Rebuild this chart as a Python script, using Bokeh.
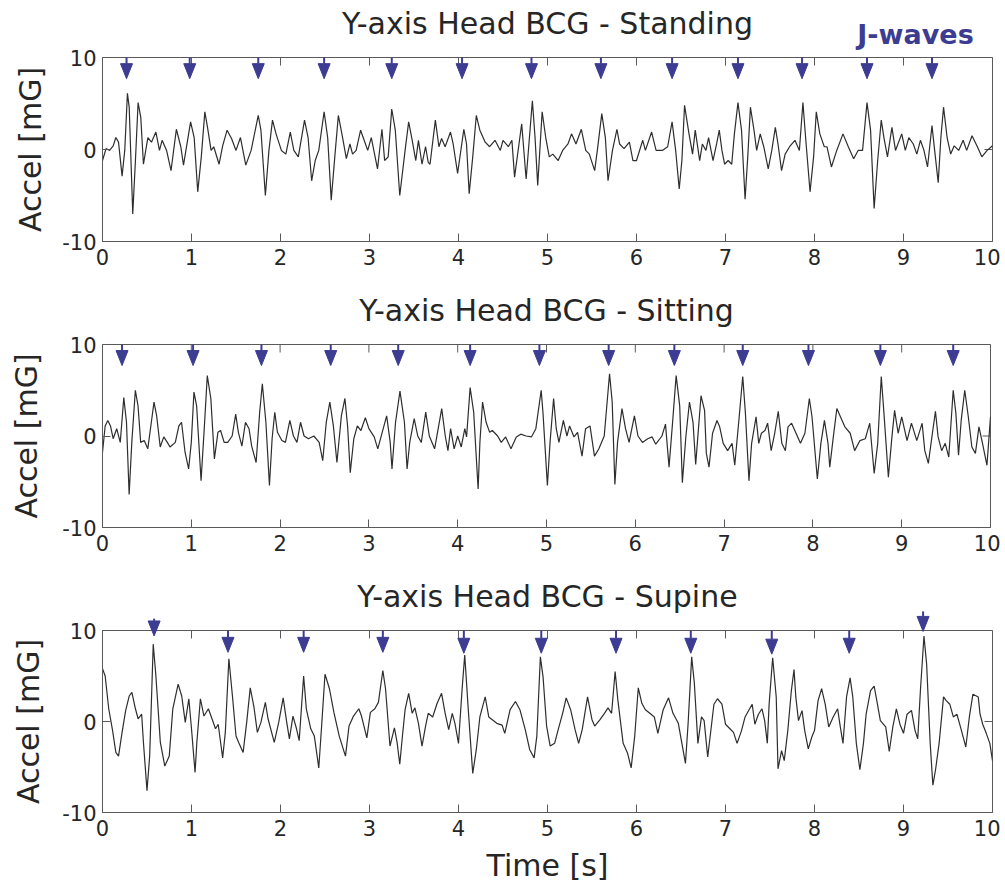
from math import pi
from bokeh.plotting import figure
from bokeh.models import FixedTicker, Range1d
from bokeh.core.properties import value
from bokeh.layouts import column
from bokeh.embed import file_html
from bokeh.resources import INLINE

# ---------------- data ----------------
x_ticks = [0, 1, 2, 3, 4, 5, 6, 7, 8, 9, 10]
y_ticks = [-10, 0, 10]
titles = ["Y-axis Head BCG - Standing", "Y-axis Head BCG - Sitting", "Y-axis Head BCG - Supine"]

standing = [
    (0.00, -1.2), (0.04, 0.1), (0.08, -0.1), (0.12, 0.4), (0.15, 1.3), (0.18, 0.8), (0.22, -2.9), (0.25, -0.1),
    (0.28, 6.1), (0.30, 4.6), (0.34, -7.0), (0.37, -1.2), (0.40, 5.1), (0.43, 3.5), (0.46, -1.6), (0.51, 1.3),
    (0.55, 0.8), (0.60, 1.9), (0.64, -0.1), (0.67, 1.0), (0.72, -0.1), (0.77, -2.3), (0.83, 2.2), (0.88, 0.3),
    (0.91, -1.7), (0.99, 3.0), (1.03, 1.3), (1.07, -4.6), (1.11, -0.8), (1.15, 4.1), (1.18, 2.4), (1.22, -0.1),
    (1.25, 0.3), (1.31, -1.6), (1.35, 0.4), (1.40, 2.1), (1.45, 1.2), (1.50, -0.1), (1.55, 1.3), (1.61, -1.7),
    (1.67, -0.1), (1.75, 3.7), (1.78, 2.1), (1.83, -5.0), (1.87, -0.1), (1.91, 3.2), (1.95, 1.7), (2.01, -0.1),
    (2.06, -0.5), (2.11, 1.9), (2.15, -0.1), (2.20, -0.8), (2.27, 3.2), (2.31, 1.3), (2.35, -3.4), (2.39, -1.2),
    (2.43, -0.1), (2.49, 4.1), (2.53, 1.3), (2.57, -5.5), (2.61, -0.8), (2.65, 3.7), (2.69, 1.7), (2.74, -1.0),
    (2.78, 0.6), (2.81, -0.5), (2.85, -0.1), (2.90, 2.1), (2.94, 1.0), (2.98, -0.1), (3.02, 1.3), (3.09, -2.1),
    (3.14, 2.2), (3.17, -1.2), (3.21, -0.8), (3.25, 4.4), (3.29, 2.1), (3.34, -5.0), (3.40, -0.1), (3.44, 3.0),
    (3.48, 1.0), (3.52, -1.2), (3.55, 1.0), (3.59, -1.6), (3.63, 0.3), (3.66, -1.4), (3.68, -1.6), (3.74, 3.2),
    (3.78, 0.3), (3.81, 1.2), (3.85, 0.3), (3.91, 1.9), (3.94, 0.6), (3.99, -2.6), (4.06, 2.2), (4.09, 0.6),
    (4.12, -4.8), (4.16, -0.8), (4.20, 3.7), (4.24, 2.1), (4.30, 0.8), (4.35, 0.3), (4.41, 1.0), (4.47, -0.1),
    (4.50, 1.0), (4.56, 0.3), (4.60, 1.0), (4.63, -3.0), (4.71, 2.8), (4.76, -3.2), (4.83, 5.3), (4.86, 1.3),
    (4.89, -3.9), (4.94, 4.1), (4.98, 1.3), (5.02, -0.8), (5.06, -0.5), (5.12, -1.2), (5.17, -0.1), (5.23, 0.6),
    (5.27, 1.7), (5.32, 0.6), (5.38, 2.2), (5.43, -0.1), (5.47, -0.5), (5.53, -2.3), (5.56, -0.1), (5.61, 3.9),
    (5.65, 1.3), (5.68, -3.4), (5.73, -0.1), (5.78, 2.2), (5.81, 0.6), (5.86, 0.1), (5.92, 0.8), (5.96, -1.2),
    (6.00, -1.2), (6.07, 1.0), (6.10, -0.1), (6.17, 1.9), (6.22, -0.1), (6.29, -0.1), (6.35, 0.3), (6.40, 3.0),
    (6.44, -0.1), (6.48, -4.3), (6.51, -1.2), (6.54, 4.8), (6.59, 1.7), (6.63, -0.5), (6.66, 2.1), (6.71, -1.2),
    (6.74, 0.6), (6.78, -0.1), (6.81, 1.3), (6.86, -1.2), (6.90, 0.6), (6.93, 2.1), (6.96, -0.1), (6.99, -1.6),
    (7.03, -1.2), (7.07, -1.6), (7.10, 1.7), (7.14, 5.1), (7.18, 2.1), (7.22, -5.4), (7.25, -0.8), (7.28, 4.6),
    (7.32, 2.1), (7.35, -0.1), (7.39, 1.7), (7.43, 0.3), (7.48, -2.1), (7.52, -0.1), (7.56, 2.4), (7.59, 0.6),
    (7.63, -2.3), (7.67, -0.5), (7.72, 0.3), (7.78, 1.0), (7.83, -0.1), (7.87, 5.1), (7.90, 1.3), (7.95, -4.6),
    (7.99, -0.8), (8.02, 4.1), (8.06, 1.7), (8.11, 0.3), (8.14, 0.3), (8.19, -1.9), (8.25, -0.1), (8.32, 1.7),
    (8.38, 0.3), (8.44, -1.0), (8.49, -0.1), (8.54, -0.1), (8.59, 5.1), (8.63, 2.1), (8.67, -6.4), (8.71, -1.2),
    (8.75, 3.2), (8.78, 1.3), (8.82, -0.8), (8.87, 2.4), (8.91, -0.1), (8.98, 1.7), (9.02, -0.1), (9.06, 1.3),
    (9.11, 0.6), (9.15, -0.5), (9.19, 1.0), (9.23, -0.1), (9.27, -1.9), (9.32, 2.6), (9.35, -0.1), (9.39, -3.6),
    (9.42, 1.3), (9.45, 4.6), (9.49, 1.3), (9.53, -0.5), (9.57, 0.4), (9.62, -0.1), (9.67, 1.0), (9.71, -0.1),
    (9.77, 1.5), (9.83, 0.3), (9.88, -0.8), (9.94, -0.1), (10.00, 0.4),
]

sitting = [
    (0.00, -1.8), (0.03, 1.1), (0.06, 1.7), (0.09, 1.1), (0.12, -0.3), (0.16, 0.8), (0.20, -0.7), (0.24, 4.2),
    (0.27, 1.5), (0.30, -6.4), (0.33, -0.7), (0.37, 5.0), (0.40, 3.3), (0.43, -0.7), (0.47, -0.5), (0.51, -1.4),
    (0.55, 1.5), (0.58, 3.7), (0.61, 2.2), (0.65, -1.2), (0.69, -0.1), (0.73, -0.7), (0.76, -1.2), (0.82, -0.7),
    (0.86, 1.1), (0.89, 1.5), (0.93, -1.8), (0.97, -3.6), (1.00, -0.7), (1.03, 4.8), (1.06, 3.3), (1.11, -4.9),
    (1.15, 1.5), (1.18, 6.6), (1.22, 4.1), (1.26, -2.5), (1.30, 0.4), (1.33, 0.6), (1.37, -0.7), (1.41, -0.7),
    (1.46, 0.0), (1.50, 2.4), (1.53, 0.4), (1.57, -1.1), (1.61, 1.5), (1.65, 0.8), (1.68, -1.1), (1.73, -2.9),
    (1.77, 2.6), (1.80, 5.7), (1.84, 1.5), (1.88, -5.4), (1.91, -0.3), (1.94, 2.6), (1.97, 0.4), (2.02, -0.5),
    (2.06, -0.7), (2.11, 1.7), (2.15, 0.0), (2.19, -0.7), (2.23, 1.5), (2.27, 0.0), (2.32, -0.3), (2.38, 0.0),
    (2.44, -0.7), (2.48, -2.7), (2.52, 1.5), (2.56, 3.7), (2.60, 1.1), (2.64, -2.9), (2.69, 2.2), (2.73, 4.1),
    (2.76, 1.1), (2.79, -4.0), (2.83, -0.3), (2.87, 1.1), (2.91, 0.6), (2.96, 2.0), (3.00, 0.8), (3.06, -0.1),
    (3.10, -1.4), (3.15, 0.4), (3.20, 2.2), (3.24, -0.7), (3.26, -3.6), (3.30, 1.5), (3.35, 4.9), (3.40, 1.5),
    (3.43, -3.6), (3.46, -0.7), (3.51, 1.9), (3.55, 0.0), (3.59, -0.7), (3.64, 2.6), (3.68, 0.0), (3.74, -1.4),
    (3.82, 3.0), (3.86, 0.0), (3.89, -1.6), (3.92, 0.8), (3.96, -1.4), (4.00, 0.0), (4.04, -1.2), (4.08, 0.8),
    (4.10, -0.1), (4.14, 5.3), (4.18, 2.6), (4.23, -5.8), (4.25, -0.7), (4.28, 3.7), (4.32, 1.5), (4.36, 0.4),
    (4.39, 0.6), (4.45, 0.0), (4.49, -0.7), (4.54, -0.1), (4.60, -1.4), (4.66, -0.1), (4.71, 0.2), (4.77, 0.0),
    (4.83, -0.1), (4.88, 0.8), (4.94, 5.0), (4.96, 2.6), (5.01, -5.4), (5.04, -0.7), (5.08, 4.1), (5.11, 0.8),
    (5.14, -0.7), (5.19, 1.7), (5.23, 0.0), (5.26, 1.1), (5.31, -0.1), (5.35, 0.4), (5.40, -2.2), (5.44, 0.8),
    (5.49, 1.1), (5.54, -2.2), (5.59, -1.4), (5.65, 0.0), (5.71, 6.8), (5.74, 3.7), (5.77, -5.3), (5.80, -0.7),
    (5.85, 3.0), (5.89, 0.8), (5.93, -0.7), (5.99, 2.2), (6.03, 0.0), (6.08, -0.7), (6.14, -0.3), (6.19, -0.1),
    (6.23, -0.9), (6.30, 0.0), (6.34, 1.3), (6.38, -3.4), (6.42, 1.5), (6.46, 6.6), (6.50, 3.3), (6.53, -5.1),
    (6.57, 0.0), (6.61, 3.7), (6.65, 1.5), (6.68, -3.1), (6.74, 4.4), (6.78, 2.8), (6.80, -1.9), (6.83, -3.4),
    (6.87, 0.3), (6.92, 1.7), (6.95, 1.0), (6.99, -0.8), (7.04, -1.6), (7.09, -0.8), (7.12, -3.2), (7.17, 2.1),
    (7.21, 6.5), (7.24, 2.5), (7.28, -4.9), (7.31, -0.8), (7.36, 2.1), (7.39, -0.8), (7.42, 0.3), (7.46, 0.6),
    (7.49, 1.4), (7.53, -1.6), (7.57, 0.3), (7.61, 2.7), (7.65, -0.8), (7.69, -1.6), (7.72, 1.0), (7.76, 1.4),
    (7.81, 0.3), (7.86, -0.8), (7.91, 0.3), (7.96, 4.1), (7.99, 2.1), (8.05, -4.7), (8.09, -0.8), (8.13, 1.7),
    (8.17, -0.8), (8.19, -3.4), (8.23, -0.1), (8.27, 3.0), (8.31, 2.1), (8.36, 1.0), (8.42, 0.3), (8.47, -1.6),
    (8.53, -0.5), (8.59, -0.3), (8.64, 1.4), (8.69, -4.1), (8.73, -0.8), (8.77, 6.5), (8.80, 2.5), (8.85, -4.5),
    (8.89, -0.1), (8.92, 2.8), (8.96, 0.3), (9.00, 2.1), (9.06, -0.5), (9.11, 1.4), (9.17, -0.5), (9.23, 1.4),
    (9.26, -1.6), (9.30, -3.0), (9.35, 0.6), (9.38, 2.7), (9.41, -0.1), (9.45, -1.6), (9.49, -0.8), (9.53, -2.3),
    (9.58, 5.0), (9.61, 2.5), (9.64, -2.1), (9.67, 1.7), (9.71, 5.0), (9.75, 2.1), (9.79, -1.2), (9.83, -1.9),
    (9.87, 1.0), (9.91, -0.8), (9.96, -3.2), (10.00, 2.1),
]

supine = [
    (0.00, 5.8), (0.03, 5.0), (0.07, 1.4), (0.11, -0.8), (0.15, -3.4), (0.18, -3.8), (0.22, -1.2), (0.26, 1.2),
    (0.30, 2.8), (0.33, 3.2), (0.37, 1.4), (0.40, 0.3), (0.44, 0.8), (0.46, -2.3), (0.50, -7.6), (0.53, -3.8),
    (0.57, 8.5), (0.60, 5.0), (0.65, -2.3), (0.70, -4.9), (0.75, -3.8), (0.79, 1.4), (0.85, 4.1), (0.89, 2.8),
    (0.93, -0.1), (0.97, 2.5), (1.00, -0.8), (1.04, -5.6), (1.06, -2.3), (1.10, 2.5), (1.14, 0.6), (1.19, 1.4),
    (1.23, 0.3), (1.27, -0.8), (1.30, -0.3), (1.35, -4.0), (1.38, -1.2), (1.42, 6.9), (1.46, 2.8), (1.50, -1.6),
    (1.53, -2.3), (1.58, -3.4), (1.62, -0.1), (1.66, 3.7), (1.70, 1.7), (1.74, -1.2), (1.78, -0.1), (1.83, 2.1),
    (1.86, 0.3), (1.93, -2.3), (1.98, -0.1), (2.03, 2.6), (2.07, -0.1), (2.10, -1.9), (2.14, 0.6), (2.18, -0.8),
    (2.21, -2.1), (2.26, 5.0), (2.29, 1.4), (2.34, -0.8), (2.38, -1.6), (2.43, -5.1), (2.46, -0.8), (2.50, 5.2),
    (2.55, 3.6), (2.60, 1.0), (2.66, -1.6), (2.73, -3.8), (2.77, -0.5), (2.82, 0.6), (2.88, 1.4), (2.91, 0.6),
    (2.97, -1.8), (3.01, 1.0), (3.06, 1.4), (3.10, 2.1), (3.15, 5.6), (3.18, 3.6), (3.23, -2.7), (3.28, -0.7),
    (3.31, -2.3), (3.34, -4.7), (3.37, -1.6), (3.40, 1.3), (3.44, 3.1), (3.48, 0.9), (3.51, 1.5), (3.55, -0.2),
    (3.59, -2.7), (3.63, -0.5), (3.66, 0.9), (3.71, 0.5), (3.76, 2.0), (3.81, 3.1), (3.85, 0.9), (3.89, -0.9),
    (3.93, 0.9), (3.96, -0.2), (4.00, -2.4), (4.04, 3.5), (4.07, 7.3), (4.11, 1.3), (4.16, -5.7), (4.20, -3.1),
    (4.24, 0.5), (4.30, 2.7), (4.34, 0.5), (4.38, 0.2), (4.43, -0.2), (4.49, -0.4), (4.52, -1.3), (4.58, 1.3),
    (4.64, 2.2), (4.69, 1.3), (4.75, -0.9), (4.80, -3.1), (4.85, -4.0), (4.88, -1.6), (4.92, 7.1), (4.95, 4.9),
    (4.99, -0.5), (5.03, -2.7), (5.08, -2.4), (5.12, -0.9), (5.17, 0.9), (5.21, 2.6), (5.26, 1.3), (5.31, -0.9),
    (5.35, -2.4), (5.39, -0.9), (5.45, 2.7), (5.50, 0.2), (5.53, -0.5), (5.59, 0.2), (5.64, 0.9), (5.68, 1.5),
    (5.72, 0.9), (5.76, 5.5), (5.79, 2.4), (5.85, -2.4), (5.90, -3.5), (5.94, -5.1), (5.98, -1.6), (6.02, 3.7),
    (6.06, 2.0), (6.10, 1.3), (6.15, 0.9), (6.20, 0.5), (6.24, -1.3), (6.30, 1.3), (6.36, 2.6), (6.41, 0.9),
    (6.47, -0.2), (6.51, -2.4), (6.55, -4.6), (6.58, -0.2), (6.62, 7.1), (6.65, 4.2), (6.69, -2.4), (6.73, 0.5),
    (6.76, 0.1), (6.80, -3.9), (6.84, -0.6), (6.87, 1.9), (6.91, 2.5), (6.96, 1.9), (7.00, -0.3), (7.05, -0.8),
    (7.09, -1.2), (7.13, -2.4), (7.18, -1.0), (7.22, 0.5), (7.26, 1.2), (7.30, 1.9), (7.33, -0.3), (7.37, 0.8),
    (7.41, 1.4), (7.44, 0.1), (7.47, -2.4), (7.49, 1.9), (7.53, 7.0), (7.57, 2.7), (7.59, -5.2), (7.63, -3.2),
    (7.66, -4.3), (7.70, -1.0), (7.74, 3.4), (7.77, 5.7), (7.79, 2.7), (7.82, 0.1), (7.86, 1.2), (7.89, -1.0),
    (7.93, -3.0), (7.97, -1.7), (8.00, -1.0), (8.04, 2.3), (8.08, 3.6), (8.12, 1.9), (8.16, -0.6), (8.21, 0.5),
    (8.26, 1.4), (8.29, -0.6), (8.32, -2.4), (8.36, 2.7), (8.40, 4.8), (8.43, 2.7), (8.47, -2.4), (8.51, -5.3),
    (8.55, -2.4), (8.58, 0.8), (8.63, 3.4), (8.67, 3.9), (8.70, 2.3), (8.74, 0.1), (8.80, -0.6), (8.84, -3.3),
    (8.88, -0.6), (8.92, 1.4), (8.96, -0.3), (9.00, -1.3), (9.04, 0.8), (9.09, 1.2), (9.13, -1.0), (9.16, -1.9),
    (9.19, 3.4), (9.23, 9.4), (9.26, 6.3), (9.30, -2.4), (9.33, -7.0), (9.36, -5.3), (9.40, -2.4), (9.45, 2.7),
    (9.48, 2.3), (9.52, 1.9), (9.56, 0.5), (9.60, 0.8), (9.64, -0.6), (9.67, -1.7), (9.70, -2.8), (9.74, 0.5),
    (9.78, 3.0), (9.84, 2.7), (9.86, 0.8), (9.89, -0.3), (9.93, -1.3), (9.97, -2.4), (10.00, -4.3),
]

# J-wave markers: time, tip height, stem top
standing_j_t = [0.27, 0.98, 1.75, 2.49, 3.25, 4.04, 4.82, 5.60, 6.40, 7.14, 7.86, 8.59, 9.32]
standing_j_tip = [7.7] * 13
standing_j_top = [10.0] * 13

sitting_j_t = [0.22, 1.02, 1.79, 2.57, 3.33, 4.14, 4.92, 5.70, 6.44, 7.21, 7.95, 8.76, 9.58]
sitting_j_tip = [7.7] * 13
sitting_j_top = [10.0] * 13

supine_j_t = [0.58, 1.41, 2.26, 3.15, 4.06, 4.93, 5.77, 6.61, 7.52, 8.39, 9.22]
supine_j_tip = [9.4, 7.6, 7.6, 7.6, 7.5, 7.5, 7.5, 7.5, 7.4, 7.5, 9.9]
supine_j_top = [11.3, 10.0, 10.0, 10.0, 10.0, 10.0, 10.0, 10.0, 10.0, 10.0, 12.1]

# ---------------- styling ----------------
FONT = "DejaVu Sans"
NAVY = "#3c3c92"
AX = "#5a5a5a"
TXT = "#262626"
TRACE = "#2e2e2e"
TOTAL_W = 1000


def style_axis(ax, ticks, standoff):
    ax.ticker = FixedTicker(ticks=ticks)
    ax.axis_line_color = AX
    ax.axis_line_width = 1
    ax.major_tick_line_color = AX
    ax.major_tick_line_width = 1
    ax.major_tick_in = 8
    ax.major_tick_out = 0
    ax.minor_tick_line_color = None
    ax.major_label_text_font = FONT
    ax.major_label_text_color = TXT
    ax.major_label_text_font_size = "21px"
    ax.major_label_standoff = standoff
    ax.major_label_overrides = {t: str(t) for t in ticks}


def add_text(p, x, y, txt, size, color=TXT, bold=False, angle=0.0):
    p.text(x=[x], y=[y], text=[txt], angle=angle, text_align="center", text_baseline="middle",
           text_font=value(FONT), text_font_size=value(size), text_color=color,
           text_font_style="bold" if bold else "normal", level="overlay")


def panel(points, jt, jtip, jtop, title, left, fw, fh, top, bottom, time_label=False, jwaves=False):
    right = TOTAL_W - left - fw
    p = figure(frame_width=fw, frame_height=fh, x_range=Range1d(0, 10), y_range=Range1d(-10, 10),
               output_backend="svg", toolbar_location=None,
               min_border_left=left, min_border_right=right,
               min_border_top=top, min_border_bottom=bottom)
    p.xgrid.visible = False
    p.ygrid.visible = False
    p.outline_line_color = AX
    p.outline_line_alpha = 1.0
    p.background_fill_color = "white"
    p.border_fill_color = "white"

    style_axis(p.xaxis[0], x_ticks, 7)
    style_axis(p.yaxis[0], y_ticks, 6)

    px_x = 10.0 / fw      # data units per pixel (x)
    px_y = 20.0 / fh      # data units per pixel (y)

    # inward ticks on the top and right edges of the box
    p.segment(x0=x_ticks, y0=[10] * len(x_ticks), x1=x_ticks, y1=[10 - 8 * px_y] * len(x_ticks),
              line_color=AX, line_width=1)
    p.segment(x0=[10] * len(y_ticks), y0=y_ticks, x1=[10 - 8 * px_x] * len(y_ticks), y1=y_ticks,
              line_color=AX, line_width=1)

    t = [a for a, b in points]
    y = [b for a, b in points]
    p.line(t, y, line_color=TRACE, line_width=1.2)

    # arrows (J-wave markers)
    hw = 6 * px_x
    th = 15 * px_y
    xs = [[a - hw, a + hw, a] for a in jt]
    ys = [[b + th, b + th, b] for b in jtip]
    p.patches(xs, ys, fill_color=NAVY, line_color=NAVY, line_width=1, level="overlay")
    p.segment(x0=jt, y0=jtop, x1=jt, y1=[b + th for b in jtip], line_color=NAVY, line_width=2,
              level="overlay")

    # titles and labels
    add_text(p, 5, 10 + 34.5 * px_y, title, "30px")
    add_text(p, (26 - left) * px_x, 0, "Accel [mG]", "30px", angle=pi / 2)
    if jwaves:
        add_text(p, (911 - left) * px_x, 10 + 23.5 * px_y, "J-waves", "27px", color=NAVY, bold=True)
    if time_label:
        add_text(p, 5, -10 - 52.5 * px_y, "Time [s]", "30px")
    return p


p1 = panel(standing, standing_j_t, standing_j_tip, standing_j_top, titles[0],
           left=98, fw=890, fh=184, top=57, bottom=40, jwaves=True)
p2 = panel(sitting, sitting_j_t, sitting_j_tip, sitting_j_top, titles[1],
           left=102, fw=888, fh=183, top=63, bottom=40)
p3 = panel(supine, supine_j_t, supine_j_tip, supine_j_top, titles[2],
           left=100, fw=890, fh=182, top=63, bottom=70, time_label=True)

layout = column(p1, p2, p3, spacing=0)
open("out.html", "w").write(file_html(layout, INLINE))
